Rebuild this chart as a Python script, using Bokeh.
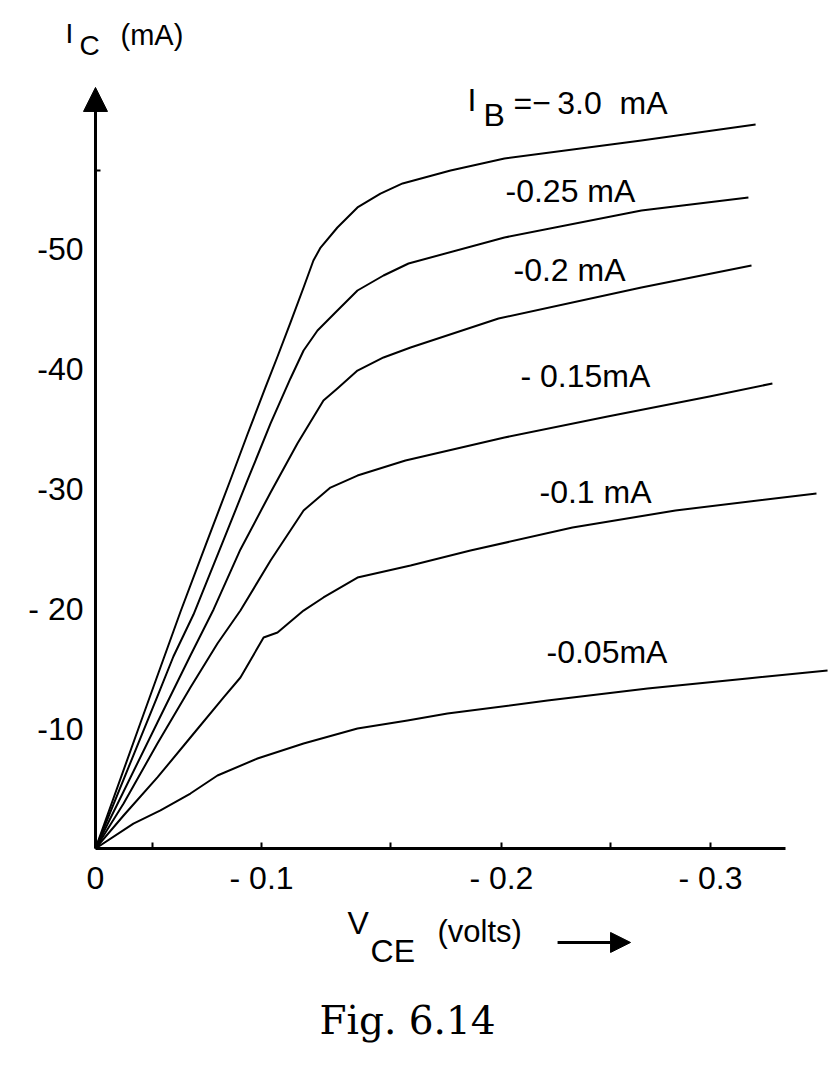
from bokeh.plotting import figure
from bokeh.layouts import column
from bokeh.models import Range1d, LinearAxis, FixedTicker, Label, Arrow, NormalHead
from bokeh.embed import file_html
from bokeh.resources import INLINE

# ---- data (V_CE in volts, I_C in mA) ----
vce_ib_3_0 = [0, -0.0220, -0.0415, -0.0546, -0.0659, -0.0741, -0.0829, -0.0888,
              -0.0951, -0.1015, -0.1063, -0.1098, -0.1180, -0.1278, -0.1390, -0.1498, -0.1732,
              -0.1995, -0.2663, -0.3220]
ic_ib_3_0 = [0, -10.5, -19.75, -25.67, -30.75, -34.5, -38.42, -41.0,
             -43.83, -46.75, -49.0, -50.08, -51.75, -53.42, -54.58, -55.42, -56.5,
             -57.5, -59.0, -60.33]

vce_ib_0_25 = [0, -0.0171, -0.0302, -0.0380, -0.0478, -0.0624, -0.0741, -0.0854, -0.0951,
               -0.1015, -0.1083, -0.1180, -0.1278, -0.1405, -0.1527, -0.1995, -0.2663, -0.3185]
ic_ib_0_25 = [0, -7.17, -12.67, -16.0, -19.5, -25.67, -30.67, -35.42, -39.17,
              -41.5, -43.17, -44.83, -46.5, -47.75, -48.75, -50.92, -53.17, -54.25]

vce_ib_0_2 = [0, -0.0137, -0.0302, -0.0463, -0.0576, -0.0707, -0.0854, -0.0985, -0.1112, -0.1180,
              -0.1278, -0.1405, -0.1537, -0.1966, -0.2663, -0.3200]
ic_ib_0_2 = [0, -4.75, -10.5, -16.08, -19.92, -24.92, -29.67, -33.75, -37.33, -38.33,
             -39.83, -40.92, -41.75, -44.17, -46.75, -48.58]

vce_ib_0_15 = [0, -0.0137, -0.0302, -0.0463, -0.0595, -0.0707, -0.0854, -0.1015, -0.1146, -0.1278,
               -0.1512, -0.1995, -0.2498, -0.2995, -0.3302]
ic_ib_0_15 = [0, -3.75, -8.75, -13.42, -17.08, -19.83, -24.0, -28.17, -30.08, -31.08,
              -32.33, -34.25, -36.0, -37.67, -38.75]

vce_ib_0_1 = [0, -0.0137, -0.0302, -0.0463, -0.0624, -0.0707, -0.0820, -0.0888, -0.1015, -0.1112,
              -0.1278, -0.1537, -0.1829, -0.2327, -0.2829, -0.3517]
ic_ib_0_1 = [0, -2.75, -5.92, -9.25, -12.58, -14.25, -17.58, -18.0, -19.83, -20.92,
             -22.58, -23.58, -24.83, -26.75, -28.17, -29.58]

vce_ib_0_05 = [0, -0.0185, -0.0317, -0.0463, -0.0595, -0.0790, -0.1015, -0.1278, -0.1522, -0.1717,
               -0.2205, -0.2693, -0.3180, -0.3571]
ic_ib_0_05 = [0, -2.08, -3.17, -4.58, -6.08, -7.5, -8.75, -10.0, -10.67, -11.25,
              -12.33, -13.33, -14.17, -14.83]

x_major_ticks = [0, -0.081, -0.198, -0.300]
x_tick_labels = ["0", "- 0.1", "- 0.2", "- 0.3"]
x_minor_ticks = [-0.028, -0.144, -0.251]
y_major_ticks = [-10, -20, -30, -40, -50]
y_tick_labels = ["-10", "- 20", "-30", "-40", "-50"]
y_minor_ticks = [-56.5]

curve_labels = ["-0.25 mA", "-0.2 mA", "- 0.15mA", "-0.1 mA", "-0.05mA"]

FONT = "Liberation Sans"
W, H = 834, 1083

# ---------- main plot: axes and curves ----------
p = figure(width=W, height=H, output_backend="svg", toolbar_location=None, title=None,
           x_range=Range1d(0, -0.360488), y_range=Range1d(0, -70.667),
           x_axis_location=None, y_axis_location=None,
           min_border_left=95, min_border_right=0, min_border_top=0, min_border_bottom=235)
p.outline_line_color = None
p.xgrid.visible = False
p.ygrid.visible = False
p.background_fill_color = "white"
p.border_fill_color = "white"
p.frame_align = False

xaxis = LinearAxis(ticker=FixedTicker(ticks=x_major_ticks, minor_ticks=x_minor_ticks),
                   major_label_overrides=dict(zip(x_major_ticks, x_tick_labels)),
                   major_label_text_font=FONT, major_label_text_font_size="32px",
                   major_label_text_color="black", major_label_standoff=11,
                   axis_line_width=3, axis_line_color="black",
                   major_tick_in=6, major_tick_out=0, major_tick_line_width=2,
                   minor_tick_in=6, minor_tick_out=0, minor_tick_line_width=2,
                   minor_tick_line_color="black", bounds=(-0.3366, 0))
p.add_layout(xaxis, "below")

yaxis = LinearAxis(ticker=FixedTicker(ticks=y_major_ticks, minor_ticks=y_minor_ticks),
                   major_label_overrides=dict(zip(y_major_ticks, y_tick_labels)),
                   major_label_text_font=FONT, major_label_text_font_size="32px",
                   major_label_text_color="black", major_label_standoff=12,
                   axis_line_width=3, axis_line_color="black",
                   major_tick_in=0, major_tick_out=0, major_tick_line_color=None,
                   minor_tick_in=5, minor_tick_out=0, minor_tick_line_width=2,
                   minor_tick_line_color="black", bounds=(-62.0, 0))
p.add_layout(yaxis, "left")

curves = [(vce_ib_3_0, ic_ib_3_0), (vce_ib_0_25, ic_ib_0_25), (vce_ib_0_2, ic_ib_0_2),
          (vce_ib_0_15, ic_ib_0_15), (vce_ib_0_1, ic_ib_0_1), (vce_ib_0_05, ic_ib_0_05)]
for xs, ys in curves:
    p.line(xs, ys, line_width=2, line_color="black", line_join="round")

# ---------- transparent overlay over the whole page for the texts and arrows ----------
ov = figure(width=W, height=H, output_backend="svg", toolbar_location=None, title=None,
            x_range=Range1d(0.046341, -0.360488), y_range=Range1d(19.583, -70.667),
            x_axis_location=None, y_axis_location=None,
            min_border_left=0, min_border_right=0, min_border_top=0, min_border_bottom=0,
            margin=(-H, 0, 0, 0))
ov.outline_line_color = None
ov.xgrid.visible = False
ov.ygrid.visible = False
ov.background_fill_color = None
ov.border_fill_color = None
ov.frame_align = False


def lab(text, x, y, size="32px", align="left", font=FONT):
    ov.add_layout(Label(x=x, y=y, text=text, text_font=font, text_font_size=size,
                        text_align=align, text_baseline="middle", text_color="black"))


# y axis arrow head
ov.add_layout(Arrow(x_start=0, y_start=-61.5, x_end=0, y_end=-63.42, line_width=3,
                    end=NormalHead(size=24, fill_color="black", line_color="black")))
# I_C (mA)
lab("I", 0.0146, -67.9, size="28px")
lab("C", 0.0078, -66.9, size="28px")
lab("(mA)", -0.0122, -67.8, size="29px")

# I_B labels
lab("I", -0.1815, -62.4)
lab("B", -0.1893, -61.1)
lab("=\u2212\u20093.0\u00a0\u00a0mA", -0.2039, -62.1)
label_pos = [(-0.2000, -54.8), (-0.2039, -48.2), (-0.2073, -39.4), (-0.2166, -29.7), (-0.2200, -16.4)]
for t, (lx, ly) in zip(curve_labels, label_pos):
    lab(t, lx, ly)

# V_CE (volts) -->
lab("V", -0.1229, 6.17)
lab("CE", -0.1342, 8.5)
lab("(volts)", -0.1668, 6.92, size="31px")
ov.add_layout(Arrow(x_start=-0.2254, y_start=7.83, x_end=-0.2610, y_end=7.83, line_width=3,
                    end=NormalHead(size=20, fill_color="black", line_color="black")))

# caption
lab("Fig. 6.14", -0.1522, 14.33, size="39px", align="center", font="DejaVu Serif")

layout = column(p, ov, spacing=0)
open("out.html", "w").write(file_html(layout, INLINE))
